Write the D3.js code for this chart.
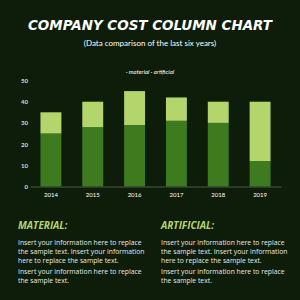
<!DOCTYPE html>
<html>
<head>
<meta charset="utf-8">
<script src="https://cdn.jsdelivr.net/npm/d3@7"></script>
<style>
  body { margin: 0; background: #0e1d0a; }
  svg { display: block; }
</style>
</head>
<body>
<div class="chartBox"></div>
<script>
var years      = ['2014', '2015', '2016', '2017', '2018', '2019'];
var material   = [25, 28, 29, 31, 30, 12];
var artificial = [10, 12, 16, 11, 10, 28];
var yTicks     = [0, 10, 20, 30, 40, 50];
var seriesNames = ['material', 'artificial'];
var blurb = ['Insert your information here to replace',
             'the sample text. Insert your information',
             'here to replace the sample text.'];
var blurb2 = ['Insert your information here to replace',
              'the sample text.'];

var w = 300, h = 300;
var darkGreen = '#3e7b1f', lightGreen = '#b4d56b';

var canvas = d3.select('.chartBox')
  .append('svg')
  .attr('width', w)
  .attr('height', h);

canvas.append('rect')
  .attr('width', w).attr('height', h)
  .attr('fill', '#0e1d0a');

// titles
canvas.append('text')
  .attr('x', 150).attr('y', 30)
  .attr('text-anchor', 'middle')
  .attr('font-family', 'DejaVu Sans')
  .attr('font-weight', 'bold')
  .attr('font-style', 'italic')
  .attr('font-size', 14)
  .attr('textLength', 244)
  .attr('lengthAdjust', 'spacingAndGlyphs')
  .attr('fill', '#ffffff')
  .text('COMPANY COST COLUMN CHART');

canvas.append('text')
  .attr('x', 150).attr('y', 46)
  .attr('text-anchor', 'middle')
  .attr('font-family', 'Lato')
  .attr('font-size', 8)
  .attr('fill', '#ffffff')
  .text('(Data comparison of the last six years)');

// legend
canvas.append('text')
  .attr('x', 150).attr('y', 74)
  .attr('text-anchor', 'middle')
  .attr('font-family', 'Lato')
  .attr('font-style', 'italic')
  .attr('font-size', 6)
  .attr('fill', '#ffffff')
  .text('· ' + seriesNames[0] + '  · ' + seriesNames[1]);

// scales
var x = d3.scaleBand()
  .domain(years)
  .range([30, 281])
  .paddingInner(0.5)
  .paddingOuter(0.25);

var y = d3.scaleLinear()
  .domain([0, 50])
  .range([186.5, 80.5]);

var data = years.map(function(d, i) {
  return { year: d, material: material[i], artificial: artificial[i] };
});
var stacked = d3.stack().keys(seriesNames)(data);
var colors = d3.scaleOrdinal().domain(seriesNames).range([darkGreen, lightGreen]);

canvas.append('g')
  .selectAll('g')
  .data(stacked)
  .enter()
  .append('g')
  .attr('fill', function(d) { return colors(d.key); })
  .selectAll('rect')
  .data(function(d) { return d; })
  .enter()
  .append('rect')
  .attr('x', function(d) { return x(d.data.year); })
  .attr('width', x.bandwidth())
  .attr('y', function(d) { return y(d[1]); })
  .attr('height', function(d) { return y(d[0]) - y(d[1]); });

// axes
var xAxis = canvas.append('g')
  .attr('transform', 'translate(0,' + y(0) + ')')
  .call(d3.axisBottom(x).tickSize(0).tickPadding(6));
xAxis.select('.domain').attr('stroke', '#4d5a48').attr('stroke-width', 1);
xAxis.selectAll('text')
  .attr('font-family', 'Lato')
  .attr('font-size', 6)
  .attr('fill', '#ffffff');

var yAxis = canvas.append('g')
  .attr('transform', 'translate(28,0)')
  .call(d3.axisLeft(y).tickValues(yTicks).tickSize(0).tickPadding(0));
yAxis.select('.domain').remove();
yAxis.selectAll('text')
  .attr('font-family', 'Lato')
  .attr('font-weight', 'bold')
  .attr('font-size', 6)
  .attr('fill', '#d8dccf');

// description blocks
function block(x0, title) {
  var g = canvas.append('g');
  g.append('text')
    .attr('x', x0).attr('y', 229)
    .attr('font-family', 'Open Sans')
    .attr('font-weight', 'bold')
    .attr('font-style', 'italic')
    .attr('font-size', 10)
    .attr('fill', lightGreen)
    .text(title);
  g.selectAll('.p1')
    .data(blurb)
    .enter()
    .append('text')
    .attr('x', x0)
    .attr('y', function(d, i) { return 245 + i * 8.8; })
    .attr('font-family', 'Open Sans')
    .attr('font-size', 6.8)
    .attr('fill', '#e6e8e2')
    .text(function(d) { return d; });
  g.selectAll('.p2')
    .data(blurb2)
    .enter()
    .append('text')
    .attr('x', x0)
    .attr('y', function(d, i) { return 274 + i * 8.8; })
    .attr('font-family', 'Open Sans')
    .attr('font-size', 6.8)
    .attr('fill', '#e6e8e2')
    .text(function(d) { return d; });
}
block(18, 'MATERIAL:');
block(161, 'ARTIFICIAL:');
</script>
</body>
</html>
